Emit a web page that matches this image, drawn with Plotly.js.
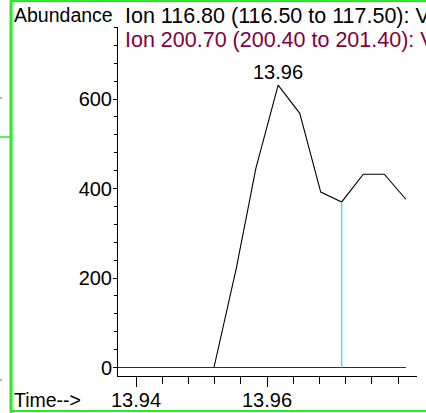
<!DOCTYPE html>
<html>
<head>
<meta charset="utf-8">
<script src="https://cdn.plot.ly/plotly-3.0.1.min.js"></script>
<style>html,body{margin:0;padding:0;background:#fff;}#chart{width:426px;height:413px;}</style>
</head>
<body>
<div id="chart"></div>
<script>
// Retention times (min) and abundances
var times = [13.9356, 13.9389, 13.9421, 13.9454, 13.9486, 13.9519, 13.9553, 13.9583, 13.9617, 13.9650, 13.9682, 13.9714, 13.9747, 13.9779, 13.9812];
var ion116 = [0, 0, 0, 0, 0, 0, 221, 445, 631, 568, 392, 370, 432, 432, 376];
var ion200 = [0, 0, 0, 0, 0, 0, 0, 0, 0, 0, 0, 0, 0, 0, 0];
var markerTime = [13.9714, 13.9714];
var markerAbund = [0, 370];
var peakLabel = {time: 13.9617, abund: 631, text: "13.96"};
var yTickVals = [0, 200, 400, 600];
var xTickVals = [13.94, 13.96];

var L = 118, R = 417, T = 27, B = 376;
function px(x){ return (x - L) / (R - L); }
function py(y){ return (B - y) / (B - T); }

var font = "Liberation Sans, Arial, sans-serif";
var maroon = "rgb(128,0,64)";
var green = "#22ee22";

var traces = [
  {x: times, y: ion116, mode: "lines", line: {color: "#000", width: 1.1}, hoverinfo: "skip"},
  {x: times, y: ion200, mode: "lines", line: {color: maroon, width: 1.2}, hoverinfo: "skip"},
  {x: markerTime, y: markerAbund, mode: "lines", line: {color: "#00eeff", width: 1.2}, hoverinfo: "skip"}
];

var layout = {
  width: 426, height: 413,
  margin: {l: L, r: 426 - R, t: T, b: 413 - B, pad: 0},
  paper_bgcolor: "#fff", plot_bgcolor: "#fff",
  showlegend: false,
  font: {family: font, size: 20, color: "#000"},
  xaxis: {
    range: [13.93725, 13.9829], showgrid: false, zeroline: false,
    showline: true, linecolor: "#000", linewidth: 1,
    ticks: "outside", ticklen: 10, tickcolor: "#000", tickwidth: 1,
    tickmode: "array", tickvals: xTickVals, ticktext: xTickVals.map(function(v){return v.toFixed(2);}),
    tickfont: {family: font, size: 20, color: "#000"},
    ticklabelstandoff: -4,
    minor: {dtick: 0.004, tick0: 13.94, ticks: "outside", ticklen: 7, tickcolor: "#000", showgrid: false}
  },
  yaxis: {
    range: [-19, 761], showgrid: false, zeroline: false,
    showline: true, linecolor: "#000", linewidth: 1,
    ticks: "outside", ticklen: 4, tickcolor: "#000", tickwidth: 1,
    tickmode: "array", tickvals: yTickVals,
    tickfont: {family: font, size: 20, color: "#000"},
    ticklabelstandoff: -3,
    minor: {dtick: 40, tick0: 0, ticks: "outside", ticklen: 3, tickcolor: "#000", showgrid: false}
  },
  annotations: [
    {xref: "paper", yref: "paper", x: px(12), y: py(15), xanchor: "left", yanchor: "middle", text: "Abundance", showarrow: false, font: {family: font, size: 19.5, color: "#000"}},
    {xref: "paper", yref: "paper", x: px(123), y: py(16), xanchor: "left", yanchor: "middle", text: "Ion 116.80 (116.50 to 117.50): V", showarrow: false, font: {family: font, size: 21.5, color: "#000"}},
    {xref: "paper", yref: "paper", x: px(123), y: py(40), xanchor: "left", yanchor: "middle", text: "Ion 200.70 (200.40 to 201.40): V", showarrow: false, font: {family: font, size: 21.5, color: maroon}},
    {xref: "paper", yref: "paper", x: px(12), y: py(400), xanchor: "left", yanchor: "middle", text: "Time-->", showarrow: false, font: {family: font, size: 19.5, color: "#000"}},
    {xref: "x", yref: "y", x: peakLabel.time, y: peakLabel.abund, xanchor: "center", yanchor: "bottom", yshift: 0, text: peakLabel.text, showarrow: false, font: {family: font, size: 20, color: "#000"}}
  ],
  shapes: [
    {type: "line", xref: "paper", yref: "paper", x0: px(11), x1: px(11), y0: py(0), y1: py(413), line: {color: green, width: 3}},
    {type: "line", xref: "paper", yref: "paper", x0: px(11), x1: px(426), y0: py(1), y1: py(1), line: {color: green, width: 2}},
    {type: "line", xref: "paper", yref: "paper", x0: px(11), x1: px(426), y0: py(411), y1: py(411), line: {color: green, width: 2}},
    {type: "line", xref: "paper", yref: "paper", x0: px(0), x1: px(11), y0: py(137), y1: py(137), line: {color: green, width: 1.5}},
    {type: "line", xref: "paper", yref: "paper", x0: px(0), x1: px(2), y0: py(98), y1: py(98), line: {color: "#666", width: 1}},
    {type: "line", xref: "paper", yref: "paper", x0: px(0), x1: px(2), y0: py(380), y1: py(380), line: {color: "#666", width: 1}}
  ]
};

Plotly.newPlot("chart", traces, layout, {displayModeBar: false, staticPlot: true});
</script>
</body>
</html>
